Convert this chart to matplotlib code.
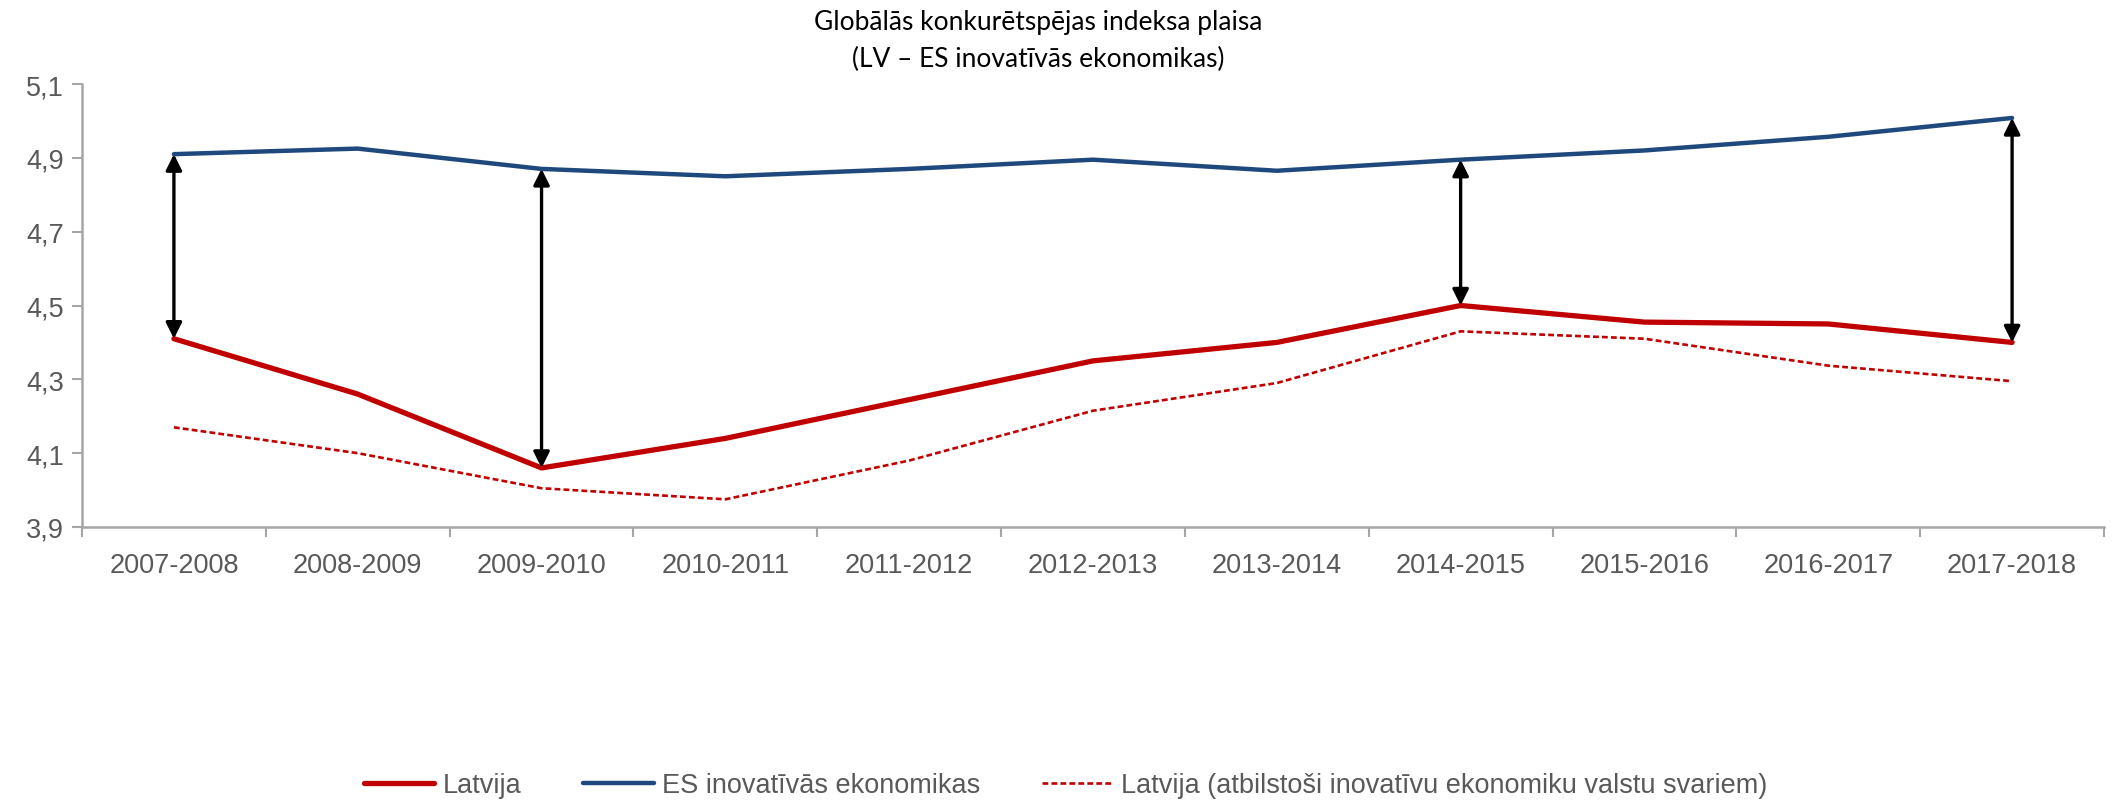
import numpy as np
import matplotlib
matplotlib.use('Agg')
import matplotlib.pyplot as plt
from matplotlib.ticker import FuncFormatter

# data
years = ['2007-2008', '2008-2009', '2009-2010', '2010-2011', '2011-2012', '2012-2013',
         '2013-2014', '2014-2015', '2015-2016', '2016-2017', '2017-2018']
latvija = [4.41, 4.26, 4.06, 4.14, 4.245, 4.35, 4.40, 4.50, 4.455, 4.45, 4.40]
es_inov = [4.91, 4.925, 4.87, 4.85, 4.87, 4.895, 4.865, 4.895, 4.92, 4.957, 5.008]
latvija_sv = [4.17, 4.10, 4.005, 3.975, 4.08, 4.215, 4.29, 4.43, 4.41, 4.337, 4.295]
gap_idx = [0, 2, 7, 10]  # where the gap arrows are drawn

narrow = ['Liberation Sans', 'DejaVu Sans']
grey = '#595959'
axcol = '#a6a6a6'
fsz = 19.5

fig = plt.figure(figsize=(21.14, 8.12), dpi=100)
ax = fig.add_axes([82/2114, 1-528/812, (2104-82)/2114, (528-85)/812])

x = np.arange(len(years))
ax.plot(x, latvija, color='#C00000', lw=3.8, label='Latvija', solid_capstyle='round', zorder=3)
ax.plot(x, es_inov, color='#1F497D', lw=3.2, label='ES inovatīvās ekonomikas',
        solid_capstyle='round', zorder=3)
ax.plot(x, latvija_sv, color='#C00000', lw=1.9, ls=(0, (2.2, 1.2)),
        label='Latvija (atbilstoši inovatīvu ekonomiku valstu svariem)', zorder=3)

for i in gap_idx:
    ax.annotate('', xy=(x[i], es_inov[i]), xytext=(x[i], latvija[i]),
                arrowprops=dict(arrowstyle='<|-|>', color='black', lw=2.4,
                                mutation_scale=24, shrinkA=0, shrinkB=0), zorder=4)

ax.set_xlim(-0.5, len(years)-0.5)
ax.set_ylim(3.9, 5.1)
ax.set_yticks(np.arange(3.9, 5.11, 0.2))
ax.yaxis.set_major_formatter(FuncFormatter(lambda v, p: ('%.1f' % v).replace('.', ',')))

# category boundaries as tick marks, labels at category centres
ax.set_xticks(np.arange(-0.5, len(years), 1.0))
ax.set_xticklabels([])
ax.set_xticks(x, minor=True)
ax.set_xticklabels(years, minor=True)
ax.tick_params(axis='x', which='major', length=7, width=1.5, color=axcol, direction='out')
ax.tick_params(axis='x', which='minor', length=0, pad=18, labelsize=fsz, labelcolor=grey)
ax.tick_params(axis='y', length=7, width=1.5, color=axcol, direction='out', pad=6,
               labelsize=fsz, labelcolor=grey)
for lab in ax.get_xticklabels(minor=True) + ax.get_yticklabels():
    lab.set_family(narrow)

for s in ['top', 'right']:
    ax.spines[s].set_visible(False)
for s in ['left', 'bottom']:
    ax.spines[s].set_color(axcol)
    ax.spines[s].set_linewidth(1.8)

fig.text(0.491, 1-10/812, 'Globālās konkurētspējas indeksa plaisa\n(LV – ES inovatīvās ekonomikas)',
         ha='center', va='top', fontsize=19, family=['Lato', 'DejaVu Sans'], linespacing=1.6)

leg = fig.legend(loc='center', bbox_to_anchor=(0.504, 1-786/812), ncol=3, frameon=False,
                 handlelength=2.6, columnspacing=2.3, handletextpad=0.3,
                 prop={'family': narrow, 'size': fsz})
for t in leg.get_texts():
    t.set_color(grey)

plt.savefig('out.png', dpi=100)
